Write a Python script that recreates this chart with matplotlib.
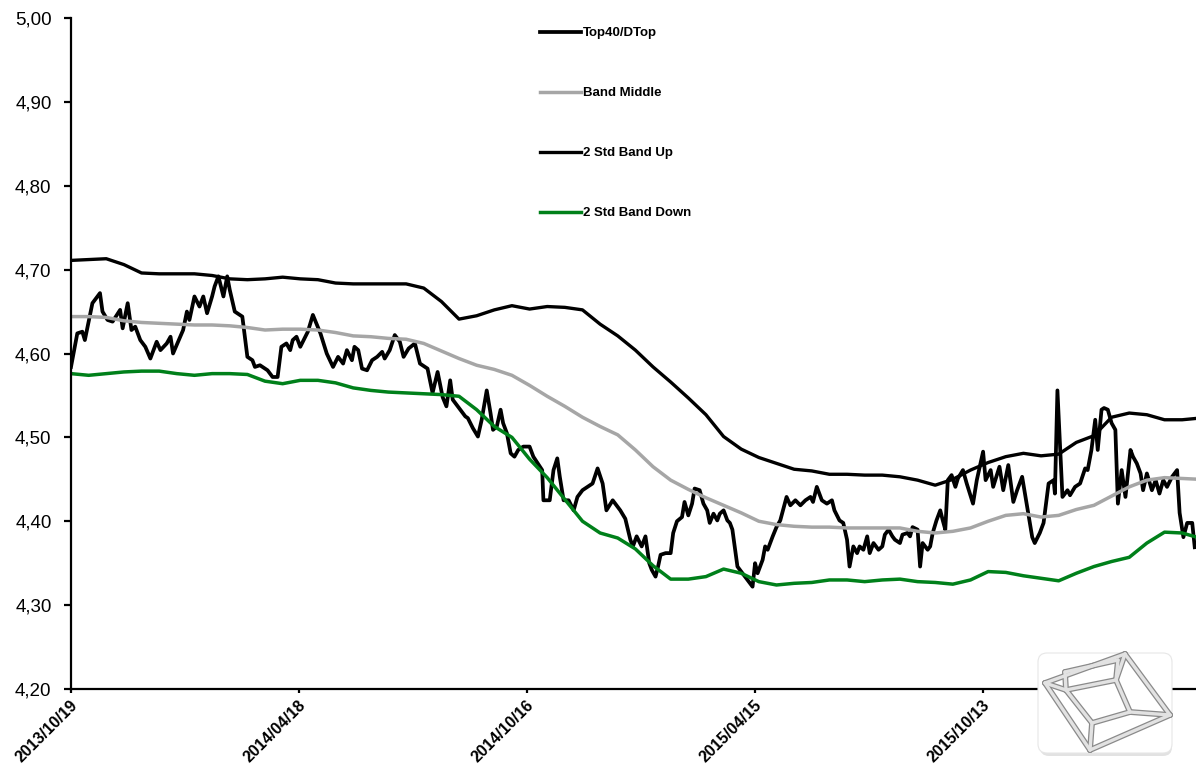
import numpy as np
import pandas as pd
import matplotlib
matplotlib.use("Agg")
import matplotlib.pyplot as plt
from matplotlib.patches import FancyBboxPatch
from matplotlib.ticker import FuncFormatter
import matplotlib.transforms as mtransforms

plt.rcParams['font.family'] = ['Liberation Sans', 'DejaVu Sans']

START = pd.Timestamp("2013-10-19")

# ---- Top40/DTop (day offset from START, value) ----
top_days = [
    0, 5, 9, 11, 17, 23, 25, 29, 33, 39,
    41, 45, 48, 51, 55, 59, 63, 68, 71, 76,
    79, 81, 85, 89, 92, 94, 98, 102, 105, 108,
    112, 114, 117, 121, 124, 126, 130, 136, 140, 144,
    146, 150, 156, 160, 164, 167, 171, 174, 176, 179,
    182, 188, 192, 198, 203, 208, 212, 216, 219, 223,
    225, 228, 231, 235, 239, 243, 247, 249, 253, 257,
    261, 264, 268, 273, 277, 283, 287, 291, 295, 298,
    301, 303, 307, 313, 315, 319, 323, 326, 330, 333,
    335, 338, 341, 343, 346, 349, 352, 355, 359, 364,
    367, 374, 375, 380, 383, 386, 388, 391, 395, 399,
    402, 406, 414, 418, 422, 425, 430, 436, 440, 444,
    446, 449, 453, 456, 459, 461, 464, 466, 468, 472,
    476, 478, 481, 485, 487, 490, 493, 495, 499, 502,
    505, 507, 510, 513, 515, 518, 521, 523, 525, 529,
    533, 537, 541, 543, 545, 549, 551, 553, 557, 560,
    563, 568, 571, 575, 579, 583, 587, 589, 592, 596,
    600, 604, 606, 610, 613, 616, 618, 621, 624, 626,
    629, 632, 634, 637, 641, 644, 646, 649, 652, 654,
    658, 660, 664, 666, 668, 672, 674, 676, 680, 682,
    684, 687, 690, 692, 694, 696, 699, 702, 704, 708,
    711, 716, 719, 724, 726, 730, 732, 737, 740, 744,
    748, 751, 755, 759, 763, 765, 769, 772, 776, 780,
    781, 783, 785, 787, 791, 793, 797, 801, 805, 807,
    810, 813, 815, 818, 820, 823, 826, 829, 831, 834,
    837, 841, 843, 846, 849, 851, 854, 858, 861, 864,
    867, 870, 874, 876, 878, 880, 883, 886, 890, 892,
]
top_vals = [
    4.584, 4.624, 4.626, 4.616, 4.660, 4.672, 4.650, 4.640, 4.638, 4.652,
    4.630, 4.660, 4.628, 4.632, 4.616, 4.608, 4.594, 4.614, 4.604, 4.612,
    4.620, 4.600, 4.614, 4.628, 4.650, 4.640, 4.668, 4.656, 4.668, 4.648,
    4.668, 4.680, 4.692, 4.668, 4.692, 4.676, 4.650, 4.644, 4.596, 4.592,
    4.584, 4.586, 4.580, 4.572, 4.572, 4.608, 4.612, 4.604, 4.616, 4.620,
    4.608, 4.626, 4.646, 4.624, 4.600, 4.584, 4.596, 4.588, 4.604, 4.592,
    4.608, 4.604, 4.582, 4.580, 4.592, 4.596, 4.602, 4.594, 4.604, 4.622,
    4.614, 4.596, 4.606, 4.612, 4.588, 4.582, 4.553, 4.578, 4.548, 4.537,
    4.568, 4.545, 4.537, 4.525, 4.523, 4.511, 4.501, 4.521, 4.556, 4.529,
    4.509, 4.513, 4.533, 4.517, 4.505, 4.481, 4.477, 4.485, 4.489, 4.489,
    4.477, 4.461, 4.425, 4.425, 4.461, 4.475, 4.453, 4.425, 4.425, 4.413,
    4.429, 4.437, 4.445, 4.463, 4.445, 4.413, 4.425, 4.413, 4.403, 4.378,
    4.370, 4.382, 4.370, 4.382, 4.350, 4.342, 4.334, 4.346, 4.360, 4.362,
    4.362, 4.386, 4.400, 4.405, 4.423, 4.407, 4.421, 4.439, 4.437, 4.421,
    4.413, 4.398, 4.409, 4.401, 4.409, 4.413, 4.401, 4.398, 4.390, 4.346,
    4.338, 4.330, 4.322, 4.350, 4.338, 4.354, 4.370, 4.366, 4.382, 4.393,
    4.401, 4.429, 4.419, 4.425, 4.419, 4.425, 4.429, 4.423, 4.441, 4.425,
    4.421, 4.425, 4.413, 4.401, 4.398, 4.378, 4.346, 4.370, 4.362, 4.370,
    4.366, 4.382, 4.362, 4.374, 4.366, 4.370, 4.384, 4.390, 4.382, 4.378,
    4.374, 4.384, 4.386, 4.382, 4.393, 4.390, 4.346, 4.374, 4.366, 4.370,
    4.386, 4.401, 4.413, 4.401, 4.390, 4.449, 4.455, 4.441, 4.451, 4.461,
    4.445, 4.421, 4.449, 4.483, 4.449, 4.461, 4.441, 4.465, 4.437, 4.467,
    4.423, 4.437, 4.453, 4.417, 4.381, 4.374, 4.386, 4.398, 4.445, 4.449,
    4.433, 4.556, 4.493, 4.429, 4.437, 4.431, 4.441, 4.445, 4.463, 4.461,
    4.485, 4.521, 4.485, 4.533, 4.535, 4.533, 4.517, 4.509, 4.421, 4.461,
    4.429, 4.485, 4.477, 4.469, 4.457, 4.437, 4.457, 4.437, 4.449, 4.433,
    4.449, 4.441, 4.453, 4.457, 4.461, 4.410, 4.381, 4.398, 4.398, 4.369,
]

# ---- Bands, sampled every 14 days from START ----
band_step_days = 14
band_up = [
    4.711, 4.712, 4.713, 4.706, 4.696, 4.695, 4.695, 4.695, 4.693, 4.689,
    4.688, 4.689, 4.691, 4.689, 4.688, 4.684, 4.683, 4.683, 4.683, 4.683,
    4.678, 4.662, 4.641, 4.645, 4.652, 4.657, 4.653, 4.656, 4.655, 4.652,
    4.635, 4.621, 4.604, 4.584, 4.566, 4.547, 4.527, 4.501, 4.486, 4.476,
    4.469, 4.462, 4.460, 4.456, 4.456, 4.455, 4.455, 4.453, 4.449, 4.443,
    4.450, 4.461, 4.470, 4.477, 4.481, 4.478, 4.480, 4.494, 4.502, 4.524,
    4.529, 4.527, 4.521, 4.521, 4.523,
]
band_mid = [
    4.644, 4.644, 4.643, 4.639, 4.637, 4.636, 4.635, 4.634, 4.634, 4.633,
    4.631, 4.628, 4.629, 4.629, 4.628, 4.625, 4.621, 4.620, 4.618, 4.617,
    4.612, 4.603, 4.594, 4.586, 4.581, 4.574, 4.562, 4.549, 4.537, 4.524,
    4.513, 4.503, 4.485, 4.465, 4.449, 4.438, 4.428, 4.419, 4.410, 4.400,
    4.396, 4.394, 4.393, 4.393, 4.392, 4.392, 4.392, 4.392, 4.388, 4.386,
    4.388, 4.392, 4.400, 4.407, 4.409, 4.405, 4.407, 4.414, 4.419, 4.430,
    4.441, 4.449, 4.452, 4.451, 4.450,
]
band_down = [
    4.576, 4.574, 4.576, 4.578, 4.579, 4.579, 4.576, 4.574, 4.576, 4.576,
    4.575, 4.567, 4.564, 4.568, 4.568, 4.565, 4.559, 4.556, 4.554, 4.553,
    4.552, 4.551, 4.549, 4.533, 4.513, 4.500, 4.474, 4.452, 4.426, 4.400,
    4.386, 4.380, 4.367, 4.347, 4.331, 4.331, 4.334, 4.343, 4.338, 4.328,
    4.324, 4.326, 4.327, 4.330, 4.330, 4.328, 4.330, 4.331, 4.328, 4.327,
    4.325, 4.330, 4.340, 4.339, 4.335, 4.332, 4.329, 4.338, 4.346, 4.352,
    4.357, 4.374, 4.387, 4.386, 4.380,
]

tick_step_days = 181
n_ticks = 5
end_day = 893
y_ticks = [4.20, 4.30, 4.40, 4.50, 4.60, 4.70, 4.80, 4.90, 5.00]

assert len(top_days) == len(top_vals)

top_dates = START + pd.to_timedelta(top_days, unit="D")
band_dates = START + pd.to_timedelta(np.arange(len(band_up)) * band_step_days, unit="D")

fig = plt.figure(figsize=(11.96, 7.66), dpi=100)
ax = fig.add_axes([71 / 1196, 1 - 689 / 766, 1 - 71 / 1196, (689 - 18) / 766])

ax.plot(top_dates, top_vals, color="black", lw=2.7, label="Top40/DTop", solid_joinstyle="round")
ax.plot(band_dates, band_mid, color="#a6a6a6", lw=2.5, label="Band Middle")
ax.plot(band_dates, band_up, color="black", lw=2.4, label="2 Std Band Up")
ax.plot(band_dates, band_down, color="#00801a", lw=2.5, label="2 Std Band Down")

ax.set_ylim(4.20, 5.00)
ax.set_xlim(START, START + pd.Timedelta(days=end_day))
ax.set_yticks(y_ticks)
ax.yaxis.set_major_formatter(FuncFormatter(lambda v, p: f"{v:.2f}".replace(".", ",")))

xt = [START + pd.Timedelta(days=tick_step_days * i) for i in range(n_ticks)]
ax.set_xticks(xt)
ax.set_xticklabels([d.strftime("%Y/%m/%d") for d in xt])

for s in ["top", "right"]:
    ax.spines[s].set_visible(False)
for s in ["left", "bottom"]:
    ax.spines[s].set_linewidth(1.6)
    ax.spines[s].set_color("black")

ax.tick_params(axis="y", length=5, width=1.6, pad=9, labelsize=13.5, direction="out")
ax.tick_params(axis="x", length=3, width=1.6, pad=3, labelsize=11.5, direction="out")
offset = mtransforms.ScaledTranslation(-1 / 100, 0, fig.dpi_scale_trans)
for lab in ax.get_xticklabels():
    lab.set_rotation(45)
    lab.set_ha("right")
    lab.set_va("top")
    lab.set_rotation_mode("anchor")
    lab.set_fontweight("bold")
    lab.set_transform(lab.get_transform() + offset)

leg = fig.legend(
    loc="upper left",
    bbox_to_anchor=(540 / 1196, 1 - 27 / 766),
    frameon=False,
    prop={"weight": "bold", "size": 9.5},
    handlelength=3.1,
    handletextpad=0.15,
    labelspacing=3.62,
    borderpad=0,
    borderaxespad=0,
)

# decorative logo (tesseract icon)
lax = fig.add_axes([1032 / 1196, 1 - 760 / 766, 146 / 1196, 114 / 766])
lax.set_xlim(1032, 1178)
lax.set_ylim(760, 646)
lax.axis("off")
lax.add_patch(FancyBboxPatch((1040, 655), 132, 101, boxstyle="round,pad=0,rounding_size=9",
                             fc="#cfcfcf", ec="none", alpha=0.6))
lax.add_patch(FancyBboxPatch((1038, 653), 134, 100, boxstyle="round,pad=0,rounding_size=9",
                             fc="white", ec="#e6e6e6", lw=0.8))
outer = [(1045, 683), (1125, 654), (1170, 715), (1090, 750)]
inner = [(1066, 690), (1116, 680), (1130, 712), (1092, 723)]
segs = []
for i in range(4):
    segs.append((outer[i], outer[(i + 1) % 4]))
    segs.append((inner[i], inner[(i + 1) % 4]))
    segs.append((outer[i], inner[i]))
segs.append(((1065, 672), (1118, 660)))
segs.append(((1065, 672), (1066, 690)))
segs.append(((1118, 660), (1116, 680)))
for (a, b) in segs:
    lax.plot([a[0], b[0]], [a[1], b[1]], color="#8a8a8a", lw=4.2, solid_capstyle="round")
for (a, b) in segs:
    lax.plot([a[0], b[0]], [a[1], b[1]], color="#e2e2e2", lw=2.4, solid_capstyle="round")

fig.savefig("out.png", dpi=100)
